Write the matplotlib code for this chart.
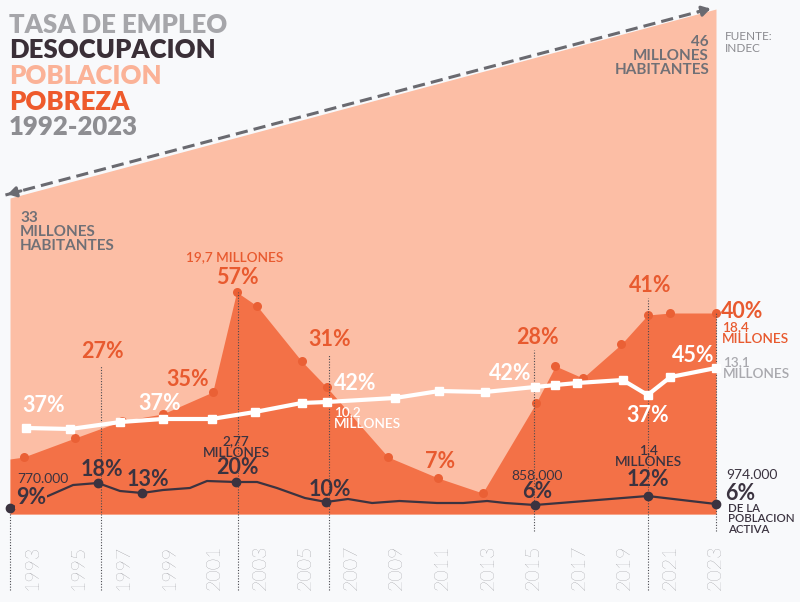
import matplotlib
matplotlib.use("Agg")
import matplotlib.pyplot as plt

plt.rcParams['font.family'] = ['Lato', 'DejaVu Sans']

# poblacion (peach area): años y altura visual, millones de habitantes
pob_anio = [1992, 2023]
pob_alt = [316, 505]
pob_millones = [33, 46]

# pobreza (area naranja)
pobreza_anio = [1992.0, 1992.6, 1994.85, 1996.9, 1998.7, 2000.9, 2001.95, 2002.85, 2004.8, 2005.9,
                2008.6, 2010.8, 2012.75, 2015.1, 2015.95, 2017.15, 2018.85, 2020.0, 2021.0, 2023.0]
pobreza_alt = [55, 57, 76, 93, 100, 122, 222, 208, 153, 127,
               57, 36, 21, 111, 148, 136, 170, 199, 201, 201]

# tasa de empleo (linea blanca)
empleo_anio = [1992.7, 1994.65, 1996.85, 1998.7, 2000.85, 2002.75, 2004.8, 2005.9, 2008.9,
               2010.85, 2012.85, 2015.05, 2015.95, 2016.9, 2018.9, 2020.0, 2021.0, 2023.0]
empleo_alt = [86, 85, 92, 95, 95, 102, 111, 112, 116,
              123, 122, 127, 129, 131, 134, 119, 137, 146]

# desocupacion (linea oscura)
desoc_anio = [1992.0, 1993.67, 1994.77, 1995.86, 1996.83, 1997.8, 1998.72, 1999.9, 2000.65,
              2001.92, 2002.85, 2003.72, 2004.95, 2005.88, 2006.84, 2007.9, 2009.1, 2010.75,
              2011.9, 2012.95, 2013.75, 2015.05, 2020.0, 2023.0]
desoc_alt = [6, 18, 29, 31, 23, 21, 24, 26, 33,
             32, 32, 26, 16, 12, 15, 11, 13, 11,
             11, 13, 11, 9, 18, 10]
desoc_puntos = [0, 3, 5, 9, 13, 21, 22, 23]

# lineas punteadas: año, altura superior, altura inferior
guia_anio = [1992, 1996, 2002, 2006, 2015, 2020, 2023]
guia_top = [6, 148, 222, 159, 164, 216, 201]
guia_bot = [-76, -76, -76, -76, -17, -76, -17]

anios_ticks = list(range(1993, 2024, 2))

BG = '#f8f9fb'
PEACH = '#fcbea5'
ORANGE = '#f37147'
ORANGE_TXT = '#e85a2f'
DARK = '#3b3340'
GRAY = '#707076'

PX_YEAR = 22.774
fig = plt.figure(figsize=(8, 6.02), dpi=100, facecolor=BG)
ax = fig.add_axes([0, 0, 1, 1])
ax.set_facecolor(BG)
ax.set_xlim(1992 - 10 / PX_YEAR, 1992 + 790 / PX_YEAR)
ax.set_ylim(-88, 514)
ax.axis('off')


def P(x, y):
    return x / 800, 1 - y / 602


def txt(x, y, s, color, size, weight='bold', ha='center', va='center', **kw):
    fig.text(*P(x, y), s, color=color, fontsize=size, fontweight=weight,
             ha=ha, va=va, **kw)


# areas
ax.fill_between(pob_anio, 0, pob_alt, color=PEACH, lw=0, zorder=1)
ax.fill_between(pobreza_anio, 0, pobreza_alt, color=ORANGE, lw=0, zorder=2)
ax.plot(pobreza_anio[1:], pobreza_alt[1:], 'o', color='#ea6035', ms=6.5, mec='none', zorder=3)

# guias punteadas
for a, t, b in zip(guia_anio, guia_top, guia_bot):
    ax.plot([a, a], [b, t], color='#4a4a50', lw=0.8, ls=(0, (1, 1.5)), zorder=3)

# flecha de poblacion
ax.plot([pob_anio[0] - 0.2, pob_anio[1] - 0.15], [pob_alt[0] + 3, pob_alt[1] + 1],
        color='#6a6a70', lw=2.2, ls=(0, (4, 2)), zorder=4)
ax.annotate('', xy=(pob_anio[1] - 0.12, pob_alt[1] + 1), xytext=(pob_anio[1] - 0.9, pob_alt[1] - 3.6),
            arrowprops=dict(arrowstyle='-|>,head_length=0.5,head_width=0.3', color='#6a6a70', lw=2.2))
ax.annotate('', xy=(pob_anio[0] - 0.22, pob_alt[0] + 3), xytext=(pob_anio[0] + 0.6, pob_alt[0] + 7.8),
            arrowprops=dict(arrowstyle='-|>,head_length=0.5,head_width=0.3', color='#6a6a70', lw=2.2))

# lineas
ax.plot(empleo_anio, empleo_alt, color='white', lw=3, marker='s', ms=6, zorder=5)
ax.plot(desoc_anio, desoc_alt, color=DARK, lw=1.6, zorder=5)
ax.plot([desoc_anio[i] for i in desoc_puntos], [desoc_alt[i] for i in desoc_puntos], 'o',
        color=DARK, ms=6, zorder=6)

# titulo
titulos = ['TASA DE EMPLEO', 'DESOCUPACION', 'POBLACION', 'POBREZA', '1992-2023']
colores = ['#a6a6aa', '#3a2f37', '#fbb297', '#ee5a2c', '#8e8e92']
for i, (t, c) in enumerate(zip(titulos, colores)):
    txt(9, 25 + i * 25.5, t, c, 18.5, weight='heavy', ha='left')

txt(725, 37, 'FUENTE:', '#8a8a8f', 8.5, weight='normal', ha='left')
txt(725, 48, 'INDEC', '#8a8a8f', 8.5, weight='normal', ha='left')

# poblacion labels
txt(20, 232, f'{pob_millones[0]}\nMILLONES\nHABITANTES', GRAY, 11, ha='left', linespacing=1.0)
txt(709, 56, f'{pob_millones[1]}\nMILLONES\nHABITANTES', GRAY, 11, ha='right', linespacing=1.0,
    multialignment='right')

# pobreza labels
for x, y, s in [(102, 351, '27%'), (188, 380, '35%'), (237, 277, '57%'), (330, 340, '31%'),
                (440, 461, '7%'), (537, 338, '28%'), (650, 286, '41%')]:
    txt(x, y, s, ORANGE_TXT, 15.5)
txt(721, 312, '40%', ORANGE_TXT, 15.5, ha='left')
txt(235, 257, '19,7 MILLONES', ORANGE_TXT, 9.8, weight='semibold')
txt(722, 333, '18,4\nMILLONES', ORANGE_TXT, 9.8, weight='semibold', ha='left', linespacing=0.95)

# empleo labels
for x, y, s in [(44, 406, '37%'), (160, 404, '37%'), (355, 384, '42%'), (510, 373, '42%'),
                (648, 415, '37%'), (693, 355, '45%')]:
    txt(x, y, s, 'white', 15.5)
txt(334, 418, '10,2\nMILLONES', 'white', 9.8, weight='semibold', ha='left', linespacing=0.95)
txt(723, 368, '13,1\nMILLONES', '#a9a9ae', 9.8, weight='semibold', ha='left', linespacing=0.95)

# desocupacion labels
txt(43, 479, '770.000', DARK, 10, weight='normal')
txt(31, 497, '9%', DARK, 15.5, bbox=dict(boxstyle='square,pad=0.05', fc=ORANGE, ec='none'))
for x, y, s in [(102, 470, '18%'), (148, 480, '13%'), (237, 468, '20%'), (330, 490, '10%'),
                (537, 492, '6%'), (648, 480, '12%')]:
    txt(x, y, s, DARK, 15.5)
txt(236, 447, '2,77\nMILLONES', DARK, 9.8, weight='semibold', linespacing=0.95)
txt(537, 476, '858.000', DARK, 10, weight='normal')
txt(648, 456, '1,4\nMILLONES', DARK, 9.8, weight='semibold', linespacing=0.95)
txt(726, 475, '974.000', DARK, 10, weight='normal', ha='left')
txt(725, 493, '6%', DARK, 15.5, ha='left')
txt(728, 519, 'DE LA\nPOBLACION\nACTIVA', DARK, 8.3, weight='semibold', ha='left', linespacing=0.95)

# eje de años
for a in anios_ticks:
    ax.text(a, -53, str(a), rotation=90, ha='center', va='center', fontsize=14,
            fontweight='light', color='#6e6e74')

fig.savefig('out.png', dpi=100, facecolor=BG)
